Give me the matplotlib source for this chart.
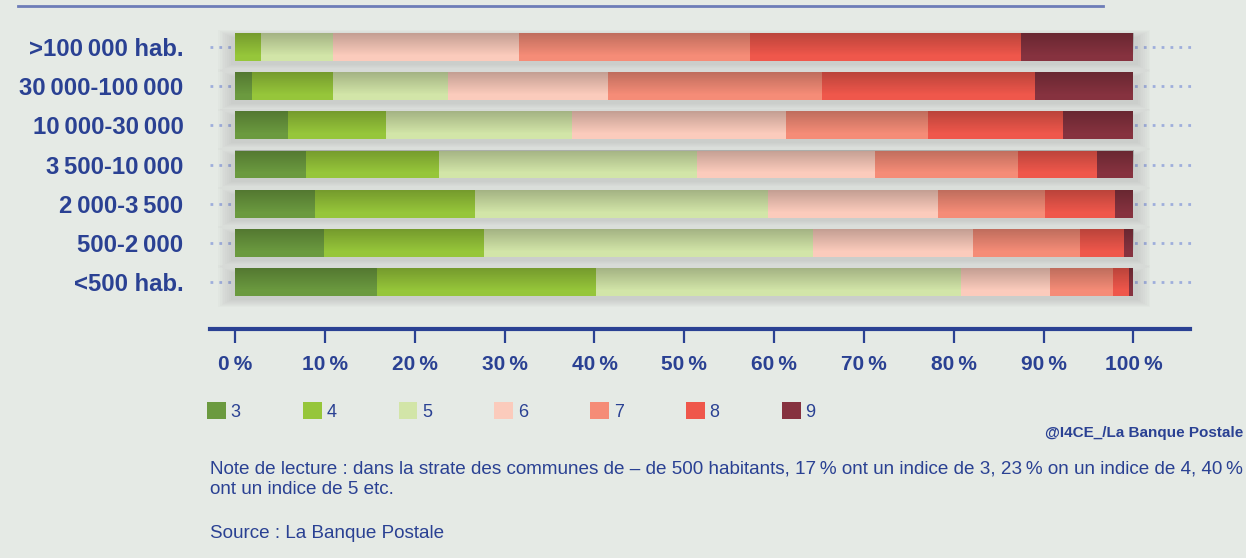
import numpy as np
import matplotlib
matplotlib.use('Agg')
import matplotlib.pyplot as plt
from matplotlib.lines import Line2D

plt.rcParams['font.family'] = ['Liberation Sans', 'DejaVu Sans']

TS = '\u2009'
categories = ['>100' + TS + '000 hab.', '30' + TS + '000-100' + TS + '000', '10' + TS + '000-30' + TS + '000',
              '3' + TS + '500-10' + TS + '000', '2' + TS + '000-3' + TS + '500', '500-2' + TS + '000', '<500 hab.']
labels = ['3', '4', '5', '6', '7', '8', '9']
i3 = [0.0, 1.9, 5.9, 7.9, 8.9, 9.9, 15.8]
i4 = [2.9, 9.0, 10.9, 14.8, 17.8, 17.8, 24.4]
i5 = [8.0, 12.8, 20.7, 28.7, 32.6, 36.6, 40.6]
i6 = [20.7, 17.8, 23.8, 19.8, 18.9, 17.8, 9.9]
i7 = [25.7, 23.8, 15.8, 15.9, 12.0, 11.9, 7.0]
i8 = [30.2, 23.8, 15.1, 8.9, 7.8, 5.0, 1.8]
i9 = [12.5, 10.8, 7.7, 4.0, 1.9, 1.0, 0.4]
ticks = [0, 10, 20, 30, 40, 50, 60, 70, 80, 90, 100]

series = [i3, i4, i5, i6, i7, i8, i9]
colors = ['#6b9a3f', '#96c63a', '#d2e5a8', '#fbcbbc', '#f58c77', '#ef574b', '#86323f']
blue = '#2a4193'
bg = '#e5eae5'

fig = plt.figure(figsize=(12.46, 5.58), dpi=100, facecolor=bg)
ax = fig.add_axes([210 / 1246, 1 - 329 / 558, 980 / 1246, 309 / 558])
ax.set_facecolor(bg)

y = np.arange(len(categories))
h = 0.71
xmin, xmax = -2.8, 106.3

# dotted leaders
ax.hlines(y, xmin, 106.8, colors='#9eaedc', linestyles=(0, (1, 2.2)), linewidth=2, zorder=0, clip_on=False)

# soft shadow
for k in range(8):
    ax.barh(y + 0.1, 101 + 0.4 * k, left=-0.5 - 0.2 * k, height=h + 0.05 * k,
            color='#444444', alpha=0.02, zorder=1, linewidth=0)

left = np.zeros(len(categories))
handles = []
for vals, col, lab in zip(series, colors, labels):
    b = ax.barh(y, vals, left=left, height=h, color=col, label=lab, zorder=2, linewidth=0)
    handles.append(b)
    left += np.array(vals)

# darker top gradient on each bar
grad = np.zeros((50, 1, 4))
grad[:, 0, 3] = np.clip(np.linspace(0.22, -0.05, 50), 0, None)
for yi, tot in zip(y, left):
    ax.imshow(grad, extent=(0, tot, yi + h / 2, yi - h / 2), aspect='auto',
              interpolation='bilinear', zorder=3)

ax.set_xlim(xmin, xmax)
ax.set_ylim(len(categories) - 1 + 1.2, -0.69)
ax.set_yticks(y)
ax.set_yticklabels(categories, fontsize=17.2, fontweight='bold', color=blue)
ax.tick_params(axis='y', length=0, pad=19)
ax.set_xticks(ticks)
ax.set_xticklabels([f'{t}{TS}%' for t in ticks], fontsize=15, fontweight='bold', color=blue)
ax.tick_params(axis='x', direction='out', length=10, width=1.6, color=blue, pad=9)

for s in ['top', 'right', 'left']:
    ax.spines[s].set_visible(False)
ax.spines['bottom'].set_color(blue)
ax.spines['bottom'].set_linewidth(3)

# top rule
fig.add_artist(Line2D([18 / 1246, 1103 / 1246], [1 - 6 / 558, 1 - 6 / 558], color='#6d7db8', linewidth=2))

fig.legend(handles=handles, labels=labels, loc='upper left', bbox_to_anchor=(207 / 1246, 1 - 402 / 558),
           ncol=7, frameon=False, fontsize=13, handlelength=1.05, handleheight=1.05,
           handletextpad=0.25, columnspacing=3.45, borderpad=0, borderaxespad=0, labelcolor=blue)

fig.text(1243 / 1246, 1 - 433 / 558, '@I4CE_/La Banque Postale', ha='right', va='center',
         fontsize=11, fontweight='bold', color=blue)
fig.text(210 / 1246, 1 - 469 / 558,
         'Note de lecture : dans la strate des communes de \u2013 de 500 habitants, 17' + TS + '% ont un indice de 3, 23' + TS
         + '% on un indice de 4, 40' + TS + '%', ha='left', va='center', fontsize=13.6, color=blue)
fig.text(210 / 1246, 1 - 490 / 558, 'ont un indice de 5 etc.', ha='left', va='center', fontsize=13.6, color=blue)
fig.text(210 / 1246, 1 - 534 / 558, 'Source : La Banque Postale', ha='left', va='center', fontsize=13.6, color=blue)

fig.savefig('out.png', dpi=100, facecolor=bg)
